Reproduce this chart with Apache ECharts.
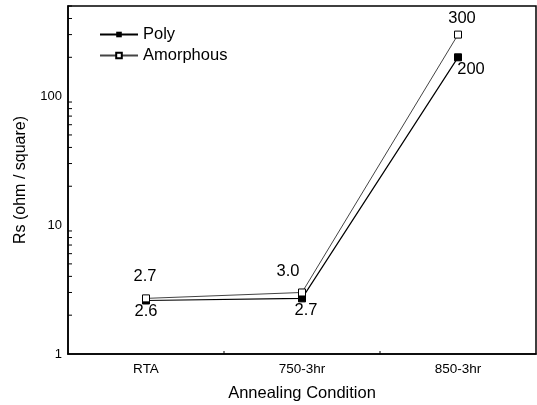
<!DOCTYPE html>
<html>
<head>
<meta charset="utf-8">
<script src="https://cdn.jsdelivr.net/npm/echarts@6/dist/echarts.min.js"></script>
<style>
  html, body { margin: 0; padding: 0; background: #fff; }
  #chart { width: 537px; height: 405px; }
</style>
</head>
<body>
<div id="chart"></div>
<script>
const categories = ['RTA', '750-3hr', '850-3hr'];
const polyValues = [2.6, 2.7, 200];
const amorphousValues = [2.7, 3.0, 300];
// minor tick values on the log axis
const yMinorTicks = [2, 3, 4, 5, 6, 7, 8, 9, 20, 30, 40, 50, 60, 70, 80, 90, 200, 300, 400, 500];

const font = 'Liberation Sans, Arial, sans-serif';
const chart = echarts.init(document.getElementById('chart'));

// labels: amorphous above, poly below, a few nudged like the original
const amorphousLabelOffsets = [[-1, -3], [-14, -3], [4, 2]];
const polyLabelOffsets = [[0, -2], [4, 0], [13, 0]];

const option = {
  animation: false,
  backgroundColor: '#fff',
  grid: {
    left: 68, right: 1, top: 6, bottom: 51,
    containLabel: false,
    outerBoundsMode: 'none',
    show: true, borderColor: '#000', borderWidth: 1.5
  },
  legend: {
    orient: 'vertical',
    left: 94, top: 21,
    itemWidth: 38, itemHeight: 7, itemGap: 4,
    textStyle: { fontFamily: font, fontSize: 16.5, color: '#000' },
    data: ['Poly', 'Amorphous']
  },
  xAxis: {
    type: 'category',
    data: categories,
    boundaryGap: true,
    name: 'Annealing Condition',
    nameLocation: 'middle',
    nameGap: 31,
    nameTextStyle: { fontFamily: font, fontSize: 16.5, color: '#000' },
    axisLine: { lineStyle: { color: '#000', width: 1.5 } },
    axisTick: { inside: true, alignWithLabel: true, length: 6, lineStyle: { color: '#000' } },
    axisLabel: { fontFamily: font, fontSize: 13.5, color: '#000', margin: 8 },
    splitLine: { show: false }
  },
  yAxis: {
    type: 'log',
    logBase: 10,
    min: 1,
    max: 500,
    name: 'Rs (ohm / square)',
    nameLocation: 'middle',
    nameGap: 39,
    nameTextStyle: { fontFamily: font, fontSize: 16, color: '#000' },
    axisLine: { show: true, lineStyle: { color: '#000', width: 1.5 } },
    axisTick: { inside: true, length: 7, lineStyle: { color: '#000' } },
    axisLabel: {
      fontFamily: font, fontSize: 13, color: '#000', margin: 6,
      formatter: v => ([1, 10, 100].indexOf(Math.round(v)) >= 0 ? String(Math.round(v)) : '')
    },
    splitLine: { show: false }
  },
  series: [
    {
      name: 'Poly',
      type: 'line',
      data: polyValues.map((v, i) => ({
        value: v,
        label: { offset: polyLabelOffsets[i] }
      })),
      symbol: 'rect',
      symbolSize: 7,
      itemStyle: { color: '#000', borderColor: '#000' },
      lineStyle: { color: '#000', width: 1.2 },
      label: {
        show: true, position: 'bottom', distance: 0,
        fontFamily: font, fontSize: 16.5, color: '#000',
        formatter: p => (p.value >= 100 ? String(p.value) : p.value.toFixed(1))
      },
      z: 3
    },
    {
      name: 'Amorphous',
      type: 'line',
      data: amorphousValues.map((v, i) => ({
        value: v,
        label: { offset: amorphousLabelOffsets[i] }
      })),
      symbol: 'rect',
      symbolSize: 7,
      itemStyle: { color: '#fff', borderColor: '#000', borderWidth: 1 },
      lineStyle: { color: '#444', width: 1 },
      label: {
        show: true, position: 'top', distance: 6,
        fontFamily: font, fontSize: 16.5, color: '#000',
        formatter: p => (p.value >= 100 ? String(p.value) : p.value.toFixed(1))
      },
      z: 4
    },
    {
      // minor ticks on the y axis and category-boundary ticks on the x axis
      type: 'custom',
      silent: true,
      data: [0],
      renderItem: function (params, api) {
        const cs = params.coordSys;
        const x0 = cs.x;
        const yb = cs.y + cs.height;
        const children = [];
        yMinorTicks.forEach(v => {
          const y = api.coord([0, v])[1];
          children.push({
            type: 'line',
            shape: { x1: x0, y1: y, x2: x0 + 4, y2: y },
            style: { stroke: '#000', lineWidth: 1 }
          });
        });
        for (let i = 0; i < categories.length - 1; i++) {
          const xa = api.coord([i, 1])[0];
          const xb = api.coord([i + 1, 1])[0];
          const x = (xa + xb) / 2;
          children.push({
            type: 'line',
            shape: { x1: x, y1: yb, x2: x, y2: yb - 3 },
            style: { stroke: '#000', lineWidth: 1 }
          });
        }
        return { type: 'group', children: children };
      },
      z: 5
    }
  ]
};

chart.setOption(option);
</script>
</body>
</html>
